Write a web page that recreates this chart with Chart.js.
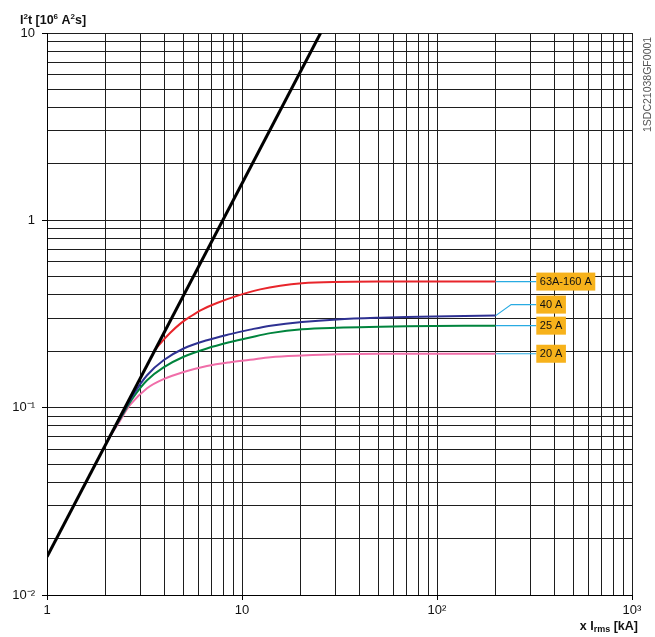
<!DOCTYPE html>
<html><head><meta charset="utf-8">
<script src="https://cdn.jsdelivr.net/npm/chart.js@4/dist/chart.umd.min.js"></script>
<style>html,body{margin:0;padding:0;background:#fff;}canvas{display:block;}</style>
</head><body>
<canvas id="c" width="655" height="637"></canvas>
<script>
// ---- tick labels ----
const xMajorTicks = [1, 10, 100, 1000];
const xMajorLabels = ['1', '10', '10²', '10³'];
const yMajorTicks = [0.01, 0.1, 1, 10];
const yMajorLabels = ['10⁻²', '10⁻¹', '1', '10'];

// ---- limit line (prospective I²t) ----
const limitX = [1, 25.3];
const limitY = [0.016, 10];

// ---- let-through curves ----
const redX   = [3.55, 3.9, 4.3, 4.83, 5.4, 6.2, 7.44, 9.43, 12.4, 15.7, 20.3, 29.4, 50, 100, 200];
const redY   = [0.202, 0.226, 0.252, 0.281, 0.305, 0.333, 0.362, 0.395, 0.428, 0.448, 0.461, 0.468, 0.471, 0.471, 0.471];

const blueX  = [2.05, 2.4, 2.78, 3.26, 3.96, 5.02, 6.61, 8.71, 11.0, 14.0, 20.3, 30.7, 51.2, 96, 200];
const blueY  = [0.067, 0.090, 0.118, 0.149, 0.179, 0.207, 0.229, 0.247, 0.261, 0.274, 0.287, 0.296, 0.302, 0.307, 0.310];

const greenX = [2.05, 2.4, 2.78, 3.26, 3.96, 5.02, 6.61, 8.71, 11.0, 14.0, 20.3, 30.7, 51.2, 96, 200];
const greenY = [0.067, 0.089, 0.114, 0.140, 0.164, 0.187, 0.207, 0.224, 0.237, 0.250, 0.262, 0.267, 0.270, 0.273, 0.274];

const pinkX  = [2.05, 2.35, 2.68, 3.26, 3.96, 5.02, 6.61, 8.71, 11.0, 14.0, 20.3, 30.7, 51.2, 200];
const pinkY  = [0.067, 0.084, 0.104, 0.127, 0.142, 0.155, 0.167, 0.175, 0.180, 0.186, 0.190, 0.193, 0.194, 0.194];

// ---- rating labels ----
const ratingLabels = ['63A-160 A', '40 A', '25 A', '20 A'];
const ratingSeriesEndY = [0.471, 0.310, 0.274, 0.194];
const ratingLabelY = [0.471, 0.355, 0.274, 0.194];
const curvesEndX = 200;
const leaderKneeX = 240;
const labelBoxX = 323;

const codeText = '1SDC21038GF0001';

function pts(xs, ys) { return xs.map((v, i) => ({x: v, y: ys[i]})); }
function logTicks(minExp, maxExp) {
  const t = [];
  for (let e = minExp; e < maxExp; e++) for (let m = 1; m < 10; m++) t.push(+(m * Math.pow(10, e)).toPrecision(3));
  t.push(Math.pow(10, maxExp));
  return t;
}
function isMajor(v, majors) { return majors.some(m => Math.abs(v / m - 1) < 1e-6); }

const FONT = '"Liberation Sans", Arial, Helvetica, sans-serif';

const overlay = {
  id: 'overlay',
  afterDatasetsDraw(chart) {
    const {ctx, scales: {x, y}} = chart;
    ctx.save();
    ratingLabels.forEach((txt, i) => {
      const x0 = x.getPixelForValue(curvesEndX);
      const y0 = y.getPixelForValue(ratingSeriesEndY[i]);
      const yl = y.getPixelForValue(ratingLabelY[i]);
      const xk = x.getPixelForValue(leaderKneeX);
      const xb = x.getPixelForValue(labelBoxX);
      ctx.strokeStyle = '#29abe2';
      ctx.lineWidth = 1.2;
      ctx.beginPath();
      ctx.moveTo(x0, y0);
      if (Math.abs(yl - y0) > 0.5) ctx.lineTo(xk, yl);
      ctx.lineTo(xb, yl);
      ctx.stroke();
      ctx.font = '11px ' + FONT;
      const w = ctx.measureText(txt).width;
      ctx.fillStyle = '#f7b21b';
      ctx.fillRect(xb, yl - 9, w + 7, 18);
      ctx.fillStyle = '#111';
      ctx.textBaseline = 'middle';
      ctx.textAlign = 'left';
      ctx.fillText(txt, xb + 3.5, yl + 0.5);
    });
    ctx.restore();
  },
  afterDraw(chart) {
    const {ctx} = chart;
    ctx.save();
    ctx.fillStyle = '#111';
    ctx.textBaseline = 'alphabetic';
    const big = 'bold 12.5px ' + FONT, sm = 'bold 8px ' + FONT;
    let cx = 20; const by = 24;
    const parts = [['I', 0], ['2', 1], ['t [10', 0], ['6', 1], [' A', 0], ['2', 1], ['s]', 0]];
    parts.forEach(([s, sup]) => {
      ctx.font = sup ? sm : big;
      ctx.fillText(s, cx, sup ? by - 5 : by);
      cx += ctx.measureText(s).width;
    });
    const xparts = [['x I', 0], ['rms', 1], [' [kA]', 0]];
    let tw = 0;
    xparts.forEach(([s, sub]) => { ctx.font = sub ? 'bold 9px ' + FONT : big; tw += ctx.measureText(s).width; });
    cx = 638 - tw; const bx = 630;
    xparts.forEach(([s, sub]) => {
      ctx.font = sub ? 'bold 9px ' + FONT : big;
      ctx.fillText(s, cx, sub ? bx + 2 : bx);
      cx += ctx.measureText(s).width;
    });
    ctx.translate(648, 132);
    ctx.rotate(-Math.PI / 2);
    ctx.font = '10.5px ' + FONT;
    ctx.fillStyle = '#555';
    ctx.textBaseline = 'middle';
    ctx.textAlign = 'left';
    ctx.fillText(codeText, 0, 0, 102);
    ctx.restore();
  }
};

const xTickVals = logTicks(0, 3);
const yTickVals = logTicks(-2, 1);

const curveStyle = {borderWidth: 2, pointRadius: 0, tension: 0.35};

new Chart(document.getElementById('c'), {
  type: 'line',
  data: {
    datasets: [
      {data: pts(limitX, limitY), borderColor: '#000', borderWidth: 3, pointRadius: 0, tension: 0, order: 0},
      Object.assign({data: pts(redX, redY), borderColor: '#e8252b', order: 1}, curveStyle),
      Object.assign({data: pts(blueX, blueY), borderColor: '#2e3192', order: 2}, curveStyle),
      Object.assign({data: pts(greenX, greenY), borderColor: '#00843d', order: 3}, curveStyle),
      Object.assign({data: pts(pinkX, pinkY), borderColor: '#f06ea9', order: 4}, curveStyle)
    ]
  },
  options: {
    responsive: false,
    animation: false,
    layout: {padding: {left: 0, right: 23, top: 33, bottom: 0}},
    plugins: {legend: {display: false}, tooltip: {enabled: false}},
    scales: {
      x: {
        type: 'logarithmic', min: 1, max: 1000,
        afterBuildTicks: s => { s.ticks = xTickVals.map(v => ({value: v})); },
        afterFit: s => { s.height = 42; },
        ticks: {
          autoSkip: false, maxRotation: 0, padding: 3, color: '#111',
          font: {family: FONT, size: 13},
          callback: v => { const i = xMajorTicks.findIndex(m => Math.abs(v / m - 1) < 1e-6); return i >= 0 ? xMajorLabels[i] : ''; }
        },
        grid: {
          color: '#1e1e1e', lineWidth: 1, tickLength: 5,
          tickColor: c => (c.tick && isMajor(c.tick.value, xMajorTicks)) ? '#000' : 'rgba(0,0,0,0)'
        },
        border: {color: '#000', width: 1}
      },
      y: {
        type: 'logarithmic', min: 0.01, max: 10,
        afterBuildTicks: s => { s.ticks = yTickVals.map(v => ({value: v})); },
        afterFit: s => { s.width = 47; },
        ticks: {
          autoSkip: false, padding: 7, color: '#111',
          font: {family: FONT, size: 13},
          callback: v => { const i = yMajorTicks.findIndex(m => Math.abs(v / m - 1) < 1e-6); return i >= 0 ? yMajorLabels[i] : ''; }
        },
        grid: {
          color: '#1e1e1e', lineWidth: 1, tickLength: 5,
          tickColor: c => (c.tick && isMajor(c.tick.value, yMajorTicks)) ? '#000' : 'rgba(0,0,0,0)'
        },
        border: {color: '#000', width: 1}
      }
    }
  },
  plugins: [overlay]
});
</script>
</body></html>
